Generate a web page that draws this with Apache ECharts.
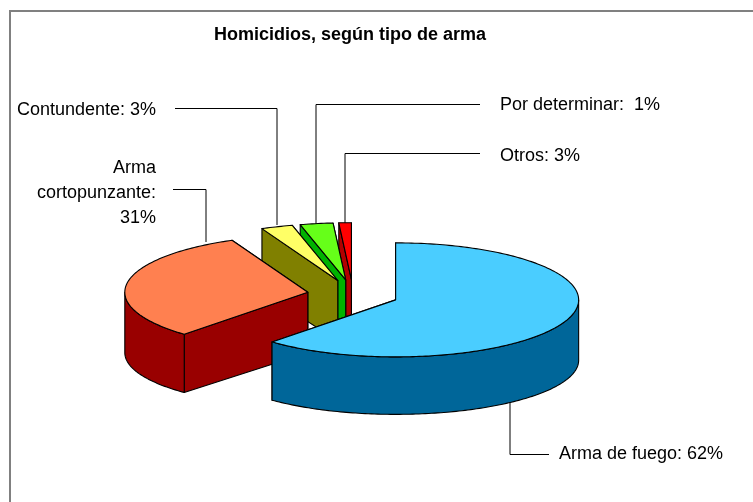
<!DOCTYPE html>
<html><head><meta charset="utf-8">
<style>html,body{margin:0;padding:0;background:#fff}#c{width:753px;height:502px}</style>
<script src="https://cdn.jsdelivr.net/npm/echarts@6/dist/echarts.min.js"></script>
</head><body><div id="c"></div>
<script>
// Data (order: clockwise from 12 o'clock)
const categories = ['Arma de fuego', 'Arma cortopunzante', 'Contundente', 'Otros', 'Por determinar'];
const shares = [61.8, 31.4, 2.8, 2.9, 1.1];
const topColors = ['#4ACDFF', '#FF8050', '#FFFF66', '#66FF19', '#FF0000'];
const wallColors = ['#006699', '#990000', '#808000', '#00B200', '#B20000'];
const labelTexts = ['Arma de fuego: 62%', 'Arma\ncortopunzante:\n31%', 'Contundente: 3%', 'Otros: 3%', 'Por determinar:  1%'];
const titleText = 'Homicidios, según tipo de arma';

// Pie geometry (layout only)
const pie = { cx: 353, cy: 294.5, a: 183, b: 57, bBottom: 54, depth: 60.5, ex: 0.25, ey: 0.26 };
const rad = d => d * Math.PI / 180;
const total = shares.reduce((s, v) => s + v, 0);
let acc = 0;
const spans = shares.map(v => { const s = acc / total * 360; acc += v; return [s, acc / total * 360]; });

function renderSlice(params, api) {
  const i = params.dataIndex;
  const [t0, t1] = spans[i];
  const mid = rad((t0 + t1) / 2);
  const ox = pie.cx + pie.ex * pie.a * Math.sin(mid);
  const oy = pie.cy - pie.ey * pie.b * Math.cos(mid);
  const topPt = t => [ox + pie.a * Math.sin(rad(t)), oy - pie.b * Math.cos(rad(t))];
  const botPt = t => [ox + pie.a * Math.sin(rad(t)), oy + pie.depth - pie.bBottom * Math.cos(rad(t))];
  const arc = (from, to, f) => {
    const pts = [], n = Math.max(2, Math.ceil(Math.abs(to - from)));
    for (let k = 0; k <= n; k++) pts.push(f(from + (to - from) * k / n));
    return pts;
  };
  const base = (shares.length - i) * 10;
  const poly = (points, fill, z) => ({
    type: 'polygon', z2: base + z, shape: { points },
    style: { fill, stroke: '#000', lineWidth: 1.1, lineJoin: 'round' }
  });
  const apexB = [ox, oy + pie.depth];
  const wall = wallColors[i];
  const children = [
    poly([[ox, oy], topPt(t1), botPt(t1), apexB], wall, 0),
    poly([[ox, oy], topPt(t0), botPt(t0), apexB], wall, 1)
  ];
  const f0 = Math.max(t0, 90), f1 = Math.min(t1, 270);
  if (f1 > f0) children.push(poly(arc(f0, f1, topPt).concat(arc(f1, f0, botPt)), wall, 2));
  children.push(poly([[ox, oy]].concat(arc(t0, t1, topPt)), topColors[i], 3));
  return { type: 'group', children };
}

// Leader lines and label placement (layout only)
const leaders = [
  [[510, 402], [510, 454.5], [549, 454.5]],
  [[173, 189.5], [206, 189.5], [206, 242]],
  [[175, 108.5], [277, 108.5], [277, 225]],
  [[480, 153.5], [345, 153.5], [345, 223]],
  [[480, 104.5], [316, 104.5], [316, 224]]
];
const labelPos = [
  { x: 559, y: 454, align: 'left' },
  { x: 156, y: 193.5, align: 'right' },
  { x: 156, y: 110, align: 'right' },
  { x: 500, y: 156, align: 'left' },
  { x: 500, y: 105, align: 'left' }
];
const textFont = { fontFamily: '"Liberation Sans", Arial, sans-serif', fontSize: 18 };

const graphic = [
  { type: 'polyline', z: -1, shape: { points: [[10, 502], [10, 11], [753, 11]] },
    style: { fill: null, stroke: '#808080', lineWidth: 2 } }
];
leaders.forEach(points => graphic.push({ type: 'polyline', z: 0, shape: { points },
  style: { fill: null, stroke: '#000', lineWidth: 1 } }));
labelTexts.forEach((text, i) => graphic.push({ type: 'text', z: 10, x: labelPos[i].x, y: labelPos[i].y,
  style: { text, fill: '#000', align: labelPos[i].align, verticalAlign: 'middle', lineHeight: 25,
    font: textFont.fontSize + 'px ' + textFont.fontFamily } }));

const chart = echarts.init(document.getElementById('c'), null, { renderer: 'canvas' });
chart.setOption({
  animation: false,
  backgroundColor: '#fff',
  title: { text: titleText, left: 214, top: 26, padding: 0,
    textStyle: { fontFamily: textFont.fontFamily, fontSize: 18, fontWeight: 'bold', color: '#000' } },
  graphic,
  series: [{
    type: 'custom', coordinateSystem: 'none', z: 5, silent: true,
    data: categories.map((name, i) => ({ name, value: shares[i] })),
    renderItem: renderSlice
  }]
});
</script></body></html>
